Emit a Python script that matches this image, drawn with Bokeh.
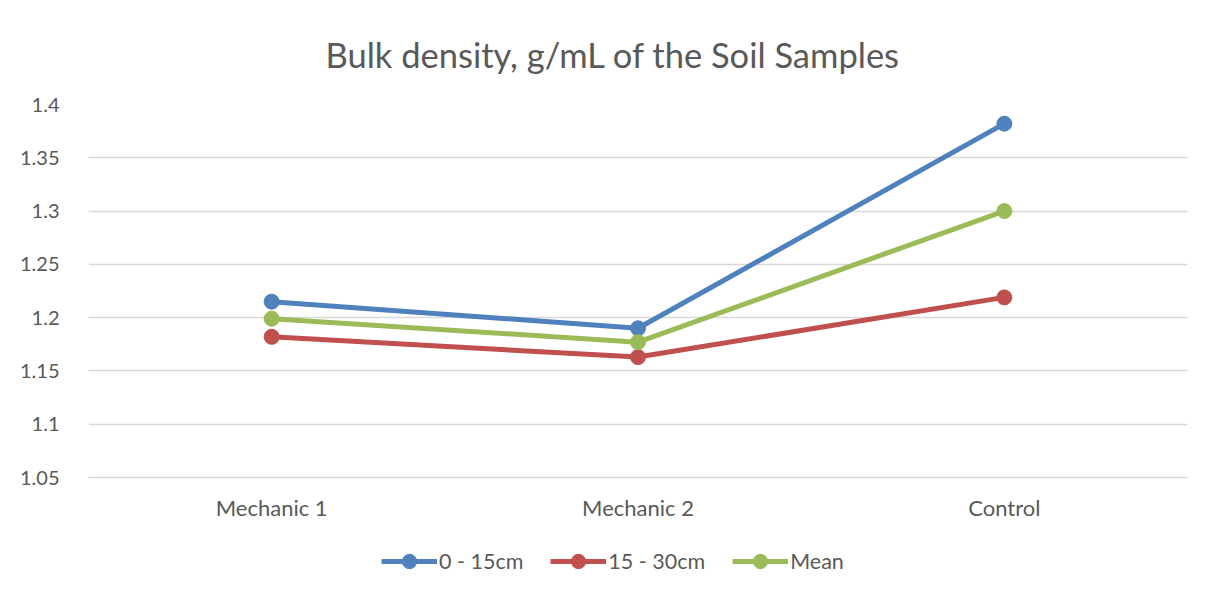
from bokeh.plotting import figure
from bokeh.models import Legend, LegendItem, FactorRange, Range1d, Title, FixedTicker
from bokeh.layouts import column
from bokeh.embed import file_html
from bokeh.resources import INLINE

categories = ["Mechanic 1", "Mechanic 2", "Control"]
series_names = ["0 - 15cm", "15 - 30cm", "Mean"]
depth_0_15 = [1.215, 1.190, 1.382]
depth_15_30 = [1.182, 1.163, 1.219]
mean_vals = [1.199, 1.177, 1.300]
y_ticks = [1.05, 1.1, 1.15, 1.2, 1.25, 1.3, 1.35, 1.4]
colors = ["#4F81BD", "#C0504D", "#9BBB59"]

FONT = "Lato"
TXT = "#595959"
series = [depth_0_15, depth_15_30, mean_vals]

p = figure(width=1199, height=523, output_backend="svg", toolbar_location=None,
           x_range=FactorRange(*categories, range_padding=0),
           y_range=Range1d(1.05, 1.4),
           min_border_left=88, min_border_right=12, min_border_top=104, min_border_bottom=46,
           tools="")

p.outline_line_color = None
p.background_fill_color = "white"
p.border_fill_color = "white"

p.xgrid.grid_line_color = None
p.ygrid.grid_line_color = "#D9D9D9"
p.ygrid.grid_line_width = 1.5
p.yaxis.ticker = FixedTicker(ticks=y_ticks)

for ax in (p.xaxis[0], p.yaxis[0]):
    ax.axis_line_color = None
    ax.major_tick_line_color = None
    ax.minor_tick_line_color = None
    ax.major_label_text_font = FONT
    ax.major_label_text_color = TXT
p.xaxis.axis_line_color = "#D9D9D9"
p.xaxis.axis_line_width = 1.5
p.yaxis.major_label_text_font_size = "20px"
p.xaxis.major_label_text_font_size = "22px"
p.yaxis.major_label_standoff = 23
p.xaxis.major_label_standoff = 10

title = Title(text="Bulk density, g/mL of the Soil Samples", align="left",
              text_font=FONT, text_font_size="34.5px", text_color=TXT,
              text_font_style="normal", offset=237, standoff=60)
p.add_layout(title, "above")

for vals, c in zip(series, colors):
    p.line(categories, vals, line_color=c, line_width=5)
    p.scatter(categories, vals, size=15, fill_color=c, line_color=c)

# legend strip below the chart (its own renderers fall outside its visible range)
lg = figure(width=1199, height=65, output_backend="svg", toolbar_location=None,
            x_range=FactorRange(*categories), y_range=Range1d(0, 1), tools="",
            min_border_left=0, min_border_right=0, min_border_top=0, min_border_bottom=0)
lg.axis.visible = False
lg.grid.visible = False
lg.outline_line_color = None
items = []
for name, vals, c in zip(series_names, series, colors):
    ln = lg.line(categories, vals, line_color=c, line_width=5)
    sc = lg.scatter(categories, vals, size=15, fill_color=c, line_color=c)
    items.append(LegendItem(label=name, renderers=[ln, sc]))
legend = Legend(items=items, orientation="horizontal", location=(293, 9),
                label_text_font=FONT, label_text_font_size="21.5px", label_text_color=TXT,
                glyph_width=56, glyph_height=36, label_standoff=2, spacing=27,
                padding=0, margin=0, border_line_color=None, background_fill_alpha=0)
lg.add_layout(legend, "center")

layout = column(p, lg, spacing=0)
open("out.html", "w").write(file_html(layout, INLINE))
